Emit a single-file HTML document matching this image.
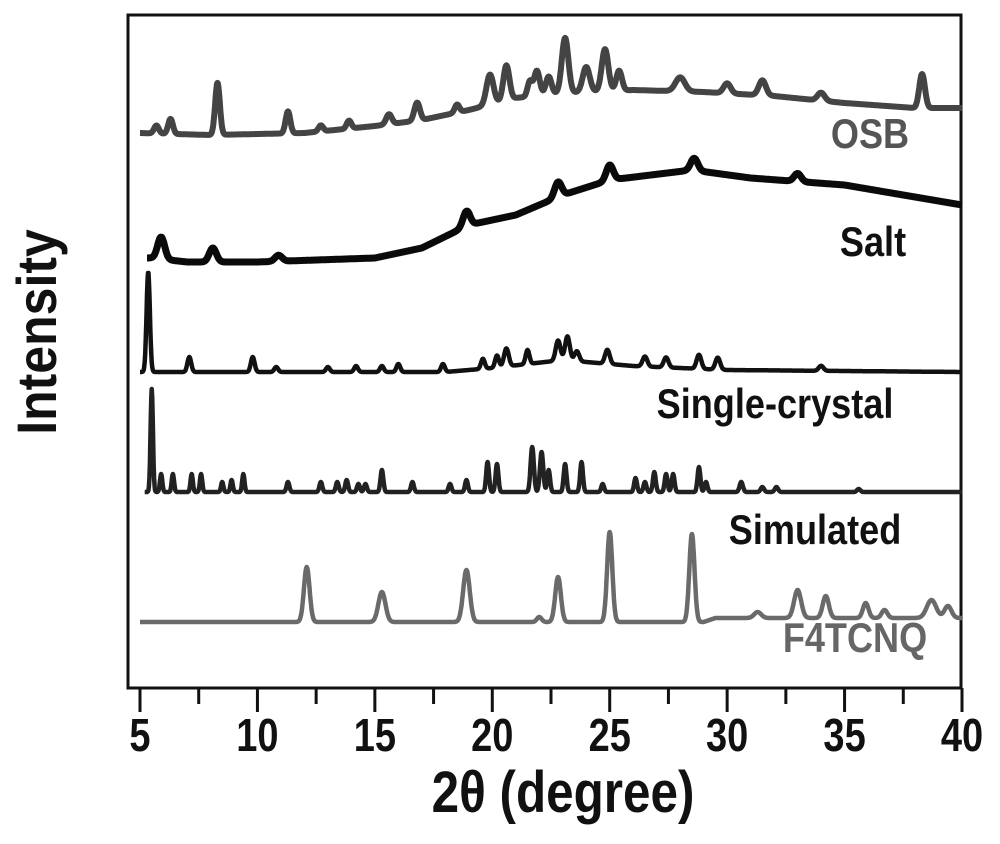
<!DOCTYPE html>
<html><head><meta charset="utf-8"><style>
body{margin:0;background:#fff;}
svg text{font-family:"Liberation Sans",Arial,sans-serif;font-weight:bold;}
</style></head><body>
<svg id="chart" width="1000" height="839" viewBox="0 0 1000 839">
<rect x="128" y="15" width="833" height="673" fill="none" stroke="#111" stroke-width="3"/>
<g id="ticks"></g>
<g id="series"></g>
<text transform="translate(870,148) scale(0.95,1.1)" font-size="38" fill="#555" text-anchor="middle">OSB</text>
<text transform="translate(873,256) scale(0.95,1.1)" font-size="38" fill="#111" text-anchor="middle">Salt</text>
<text transform="translate(775,418) scale(0.95,1.1)" font-size="38" fill="#111" text-anchor="middle">Single-crystal</text>
<text transform="translate(815,544) scale(0.95,1.1)" font-size="38" fill="#111" text-anchor="middle">Simulated</text>
<text transform="translate(855,652) scale(0.95,1.1)" font-size="38" fill="#666" text-anchor="middle">F4TCNQ</text>
<text transform="translate(563,812) scale(0.95,1.12)" font-size="52" fill="#111" text-anchor="middle">2θ (degree)</text>
<text transform="translate(56,332) rotate(-90) scale(1,1.12)" font-size="50" fill="#111" text-anchor="middle">Intensity</text>
</svg>
<script>
const xTicks=[5,10,15,20,25,30,35,40];
const xMinor=[7.5,12.5,17.5,22.5,27.5,32.5,37.5];
const seriesNames=["osb","salt","single-crystal","simulated","f4tcnq"];
const osbBase=[[5,555],[8,553],[12,555],[15,562],[17,568],[19,578],[21,590],[23,595],[26,598],[29,596],[32,592],[35,585],[38,580],[40,580]];
const osbPeaks=[[5.7,8,.1],[6.3,15,.1],[8.3,52,.1],[11.3,22,.1],[12.7,6,.1],[13.9,8,.1],[15.6,10,.12],[16.8,18,.12],[18.5,8,.1],[19.9,30,.15],[20.6,35,.13],[21.6,15,.1],[21.9,25,.12],[22.4,18,.12],[23.1,55,.14],[24.0,25,.15],[24.8,42,.14],[25.4,20,.12],[28.0,14,.2],[30.0,10,.15],[31.5,15,.15],[34.0,8,.15],[38.3,34,.12]];
const saltBase=[[5.5,430],[7,426],[10,426],[15,430],[17,440],[19,463],[21,473],[23,493],[25,508],[28.5,518],[31,510],[35,503],[40,483]];
const saltPeaks=[[5.9,22,.15],[8.1,14,.15],[10.9,6,.15],[18.9,15,.15],[22.8,15,.15],[25.0,15,.15],[28.6,12,.15],[33,8,.15]];
const scBase=[[5,316],[18,316],[20,320],[23,328],[26,322],[30,318],[40,316]];
const scPeaks=[[5.35,100,.07],[7.1,15,.08],[9.8,15,.08],[10.8,5,.08],[13,5,.08],[14.2,6,.08],[15.3,6,.08],[16,8,.08],[17.9,8,.08],[19.6,10,.08],[20.2,12,.08],[20.6,18,.1],[21.5,14,.08],[22.8,20,.1],[23.2,24,.1],[23.6,10,.1],[24.9,14,.1],[26.5,10,.1],[27.4,10,.1],[28.8,14,.1],[29.6,12,.1],[34,5,.1]];
const simBase=[[5,196],[40,196]];
const simPeaks=[[5.5,103,.05],[5.9,18,.05],[6.4,18,.05],[7.2,18,.05],[7.6,18,.05],[8.5,10,.05],[8.9,12,.05],[9.4,18,.05],[11.3,10,.06],[12.7,10,.06],[13.4,10,.06],[13.8,12,.06],[14.3,8,.06],[14.6,8,.06],[15.3,22,.06],[16.6,10,.06],[18.2,8,.06],[18.9,12,.06],[19.8,30,.06],[20.2,28,.06],[21.7,45,.07],[22.1,40,.07],[22.4,22,.06],[23.1,28,.06],[23.8,30,.06],[24.7,8,.06],[26.1,14,.06],[26.5,10,.06],[26.9,20,.06],[27.4,18,.06],[27.7,18,.06],[28.8,25,.06],[29.1,10,.06],[30.6,10,.07],[31.5,5,.07],[32.1,5,.07],[35.6,3,.07]];
const f4Base=[[5,66],[29,66],[29.5,70],[40,70]];
const f4Peaks=[[12.1,55,.12],[15.3,30,.15],[18.9,52,.14],[22.0,5,.1],[22.8,45,.12],[25.0,90,.11],[28.5,88,.11],[31.3,6,.15],[33.0,28,.15],[34.2,22,.13],[35.9,15,.12],[36.7,8,.12],[38.7,18,.2],[39.4,12,.15]];

const X0=140,X1=962,Y0=688;
const sx=v=>X0+(v-5)*(X1-X0)/35;
const sy=v=>Y0-v;
const NS="http://www.w3.org/2000/svg";
const tg=document.getElementById('ticks');
xTicks.forEach(t=>{
 const l=document.createElementNS(NS,'line');
 l.setAttribute('x1',sx(t));l.setAttribute('x2',sx(t));l.setAttribute('y1',Y0);l.setAttribute('y2',Y0+24);
 l.setAttribute('stroke','#111');l.setAttribute('stroke-width','3');
 
 
 tg.appendChild(l);
 const tx=document.createElementNS(NS,'text');
 tx.setAttribute('transform','translate('+sx(t)+','+(Y0+63)+') scale(0.95,1.15)');
 tx.setAttribute('text-anchor','middle');
 tx.setAttribute('font-size','40');tx.setAttribute('fill','#111');tx.textContent=t;
 
 
 tg.appendChild(tx);
});
xMinor.forEach(t=>{
 const l=document.createElementNS(NS,'line');
 l.setAttribute('x1',sx(t));l.setAttribute('x2',sx(t));l.setAttribute('y1',Y0);l.setAttribute('y2',Y0+16);
 l.setAttribute('stroke','#111');l.setAttribute('stroke-width','3');
 
 
 tg.appendChild(l);
});
function baseAt(b,x){
 if(x<=b[0][0])return b[0][1];
 for(let i=1;i<b.length;i++){if(x<=b[i][0]){const [a,ya]=b[i-1],[c,yc]=b[i];return ya+(yc-ya)*(x-a)/(c-a);}}
 return b[b.length-1][1];
}
const defs=[[osbBase,osbPeaks,'#444',6,5.0],[saltBase,saltPeaks,'#0a0a0a',7,5.3],[scBase,scPeaks,'#111',4.5,5.0],[simBase,simPeaks,'#222',4.5,5.2],[f4Base,f4Peaks,'#6a6a6a',4.5,5.0]];
const sg=document.getElementById('series');
defs.forEach((d,i)=>{
 const [b,p,col,w,start]=d;let pts=[];
 for(let x=start;x<=40.001;x+=0.02){
  let v=baseAt(b,x);
  p.forEach(q=>{v+=q[1]*Math.exp(-((x-q[0])**2)/(2*q[2]*q[2]));});
  pts.push(sx(x).toFixed(1)+','+sy(v).toFixed(1));
 }
 const pl=document.createElementNS(NS,'polyline');
 pl.setAttribute('points',pts.join(' '));pl.setAttribute('fill','none');
 pl.setAttribute('stroke',col);pl.setAttribute('stroke-width',w);pl.setAttribute('stroke-linejoin','round');
 
 
 sg.appendChild(pl);
});
</script>
</body></html>
